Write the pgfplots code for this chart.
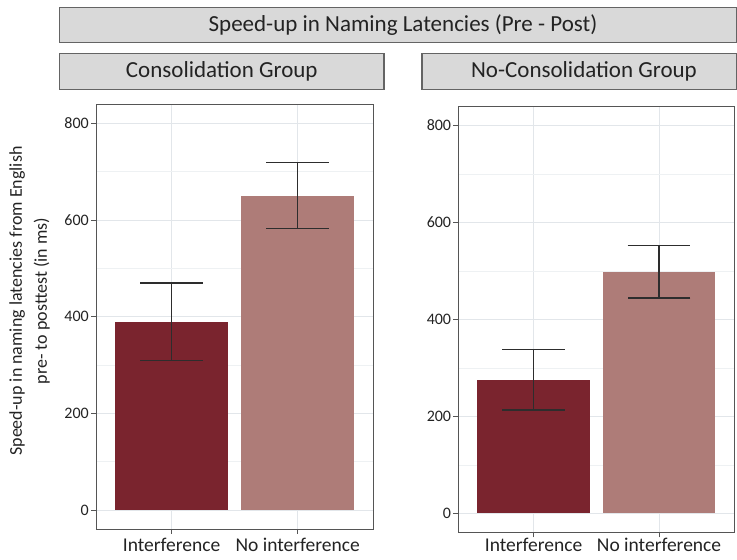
\documentclass[border=0pt]{standalone}
\usepackage{fontspec}
\setmainfont{Carlito}
\usepackage{pgfplots}
\pgfplotsset{compat=1.18}

\definecolor{darkbar}{RGB}{122,36,46}
\definecolor{lightbar}{RGB}{174,124,120}
\definecolor{gridc}{RGB}{226,230,234}
\definecolor{gridminor}{RGB}{238,241,243}
\definecolor{framec}{RGB}{85,85,85}
\definecolor{errc}{RGB}{45,45,45}
\definecolor{stripfill}{RGB}{217,217,217}
\definecolor{stripdraw}{RGB}{100,100,100}
\definecolor{txt}{RGB}{35,35,35}

\pgfplotsset{
  panel/.style={
    scale only axis,
    anchor=south west,
    ybar,
    xmin=0.4, xmax=2.6,
    ymin=-39, ymax=840,
    xtick={1,2},
    xticklabels={Interference, No interference},
    ytick={0,200,400,600,800},
    minor ytick={100,300,500,700},
    grid=both,
    major grid style={color=gridc, line width=0.7pt},
    minor grid style={color=gridminor, line width=0.6pt},
    axis line style={color=framec, line width=0.9pt},
    tick align=outside,
    tick pos=left,
    major tick length=5pt,
    minor tick length=0pt,
    tick style={color=framec, line width=0.9pt},
    /pgf/number format/assume math mode=true,
    yticklabel style={font=\fontsize{16}{18}\selectfont, text=txt, inner xsep=2pt},
    xticklabel style={font=\fontsize{19.5}{22}\selectfont, text=txt, inner ysep=1pt},
  },
  errbar/.style={
    bar shift=0, bar width=0.9, draw=none,
    error bars/.cd, y dir=both, y explicit,
    error bar style={line width=1.5pt, color=errc},
    error mark options={rotate=90, mark size=31.3pt, line width=1.3pt, color=errc},
  },
}

\begin{document}
\begin{tikzpicture}[x=1pt,y=1pt]
\path[use as bounding box] (0,0) rectangle (737,560);

% facet title banners
\draw[fill=stripfill, draw=stripdraw, line width=1.1pt] (59.7,552.7) rectangle (736.2,517.3);
\node[font=\fontsize{23}{26}\selectfont, text=txt] at (403,535) {Speed-up in Naming Latencies (Pre - Post)};
\draw[fill=stripfill, draw=stripdraw, line width=1.1pt] (59.7,506.7) rectangle (384,470.7);
\node[font=\fontsize{23}{26}\selectfont, text=txt] at (221.8,488.7) {Consolidation Group};
\draw[fill=stripfill, draw=stripdraw, line width=1.1pt] (422,506.7) rectangle (736.2,470.7);
\node[font=\fontsize{23}{26}\selectfont, text=txt] at (584,488.7) {No-Consolidation Group};

% y-axis title
\node[rotate=90, align=center, text=txt, font=\fontsize{18}{25}\selectfont] at (29.5,259)
  {Speed-up in naming latencies from English\\pre- to posttest (in ms)};

% Consolidation group
\begin{axis}[panel, at={(96pt,31pt)}, width=277.3pt, height=425pt,
  xticklabel style={yshift=-2.5pt}]
\addplot[fill=darkbar, errbar] coordinates {(1,389) += (0,81) -= (0,80)};
\addplot[fill=lightbar, errbar] coordinates {(2,650) += (0,69) -= (0,68)};
\end{axis}

% No-consolidation group
\begin{axis}[panel, at={(458.3pt,27.7pt)}, width=276pt, height=426.3pt,
  xticklabel style={yshift=0pt}]
\addplot[fill=darkbar, errbar] coordinates {(1,275) += (0,63) -= (0,62)};
\addplot[fill=lightbar, errbar] coordinates {(2,498) += (0,55) -= (0,54)};
\end{axis}
\end{tikzpicture}
\end{document}
